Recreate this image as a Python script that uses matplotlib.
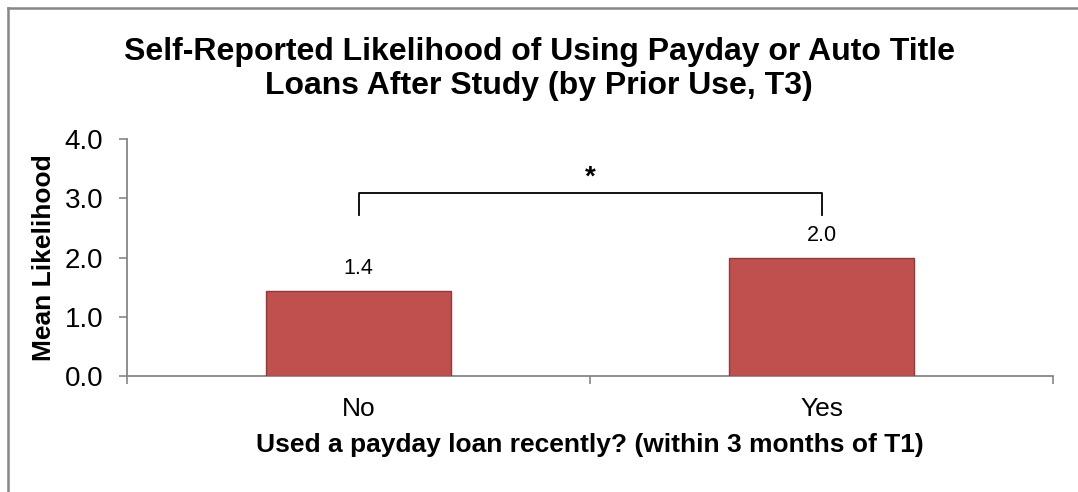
import matplotlib
matplotlib.use("Agg")
import matplotlib.pyplot as plt
from matplotlib.lines import Line2D

plt.rcParams['font.family'] = ['Liberation Sans', 'DejaVu Sans']

categories = ["No", "Yes"]
means = [1.44, 2.0]
y_ticks = [0.0, 1.0, 2.0, 3.0, 4.0]
title = "Self-Reported Likelihood of Using Payday or Auto Title\nLoans After Study (by Prior Use, T3)"
x_label = "Used a payday loan recently? (within 3 months of T1)"
y_label = "Mean Likelihood"
sig_marker = "*"

W, H = 1078, 492
fig = plt.figure(figsize=(W / 100, H / 100), dpi=100)
ax = fig.add_axes([127 / W, 1 - 376 / H, (1053 - 127) / W, (376 - 139) / H])

axis_grey = "#868686"
x = list(range(len(categories)))
ax.bar(x, means, width=0.40, color="#C0504D", edgecolor="#8E3B39", linewidth=1.0, zorder=3)

for xi, v in zip(x, means):
    ax.text(xi, v + 0.19, f"{v:.1f}", ha="center", va="bottom", fontsize=15.5)

ax.set_xlim(-0.5, len(categories) - 0.5)
ax.set_ylim(0, 4)
ax.set_yticks(y_ticks)
ax.set_yticklabels([f"{t:.1f}" for t in y_ticks], fontsize=20)

# category boundaries carry the tick marks; names sit at bar centres
ax.set_xticks([i - 0.5 for i in range(len(categories) + 1)])
ax.set_xticklabels([])
ax.set_xticks(x, minor=True)
ax.set_xticklabels(categories, minor=True, fontsize=19)
ax.tick_params(axis="x", which="major", length=6, color=axis_grey, width=1.2, direction="out")
ax.tick_params(axis="x", which="minor", length=0, pad=15)
ax.tick_params(axis="y", length=6, color=axis_grey, width=1.2, direction="out", pad=11)

for s in ("top", "right"):
    ax.spines[s].set_visible(False)
for s in ("left", "bottom"):
    ax.spines[s].set_color(axis_grey)
    ax.spines[s].set_linewidth(1.3)

ax.set_xlabel(x_label, fontsize=19, fontweight="bold", labelpad=9)
ax.set_ylabel(y_label, fontsize=19, fontweight="bold", labelpad=6)

# significance bracket between the two groups
br_low, br_high = 2.72, 3.09
ax.plot([x[0], x[0], x[1], x[1]], [br_low, br_high, br_high, br_low],
        color="black", linewidth=1.3, zorder=4, clip_on=False,
        solid_joinstyle="round")
ax.text((x[0] + x[1]) / 2, br_high + 0.04, sig_marker, ha="center", va="bottom",
        fontsize=20, fontweight="bold")

fig.text(0.5, 1 - 69 / H, title, ha="center", va="center", fontsize=23,
         fontweight="bold", linespacing=1.15)

# outer frame (top and left edges)
fig.add_artist(Line2D([7.5 / W, 1.0], [1 - 7.5 / H, 1 - 7.5 / H], color="#878787", linewidth=1.8,
                      transform=fig.transFigure))
fig.add_artist(Line2D([7.5 / W, 7.5 / W], [0.0, 1 - 7.5 / H], color="#878787", linewidth=1.8,
                      transform=fig.transFigure))

fig.savefig("out.png", dpi=100)
